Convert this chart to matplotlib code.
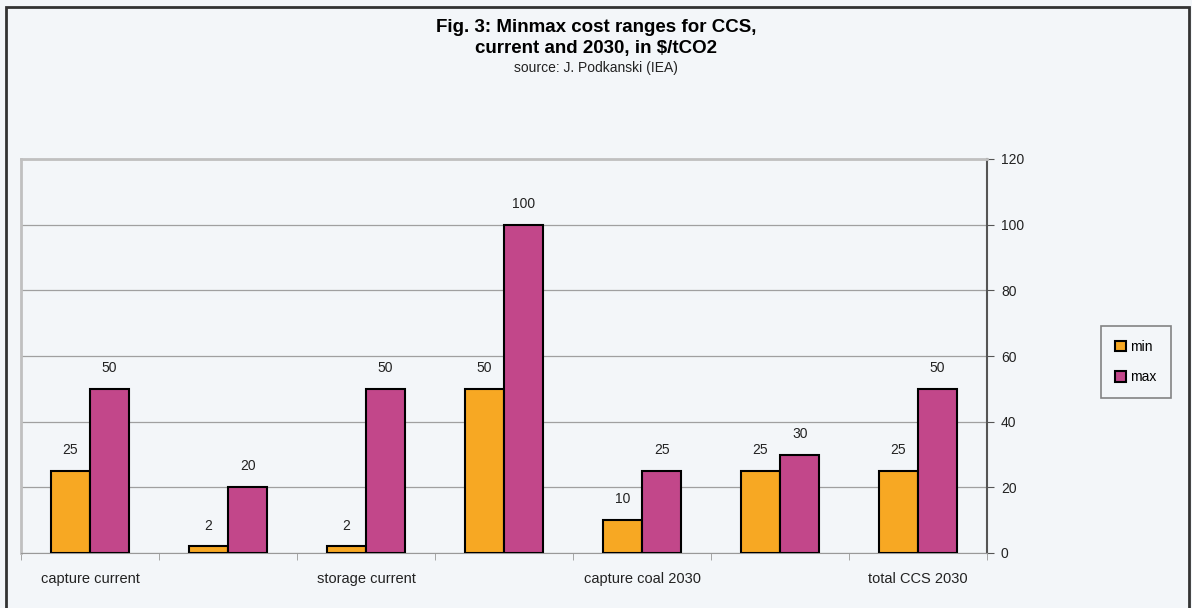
import numpy as np
import matplotlib.pyplot as plt
from matplotlib.patches import Rectangle

plt.rcParams['font.family'] = ['Liberation Sans', 'DejaVu Sans']

groups = ['capture current', '', 'storage current', '', 'capture coal 2030', '', 'total CCS 2030']
min_vals = [25, 2, 2, 50, 10, 25, 25]
max_vals = [50, 20, 50, 100, 25, 30, 50]
yticks = [0, 20, 40, 60, 80, 100, 120]

bg = '#F3F6F9'
c_min = '#F7A823'
c_max = '#C2478A'

fig = plt.figure(figsize=(11.92, 6.08), dpi=100, facecolor=bg)
# outer frame
fig.patches.append(Rectangle((6/1192, -0.01), 1183/1192, 1 - 7/608 + 0.01,
                             transform=fig.transFigure, fill=False,
                             edgecolor='#333333', lw=2))
ax = fig.add_axes([21/1192, 1 - 553/608, (987 - 21)/1192, (553 - 159)/608])
ax.set_facecolor(bg)

x = np.arange(len(groups))
w = 0.285
b1 = ax.bar(x - w/2, min_vals, w, color=c_min, edgecolor='black', lw=1.5, label='min', zorder=3)
b2 = ax.bar(x + w/2, max_vals, w, color=c_max, edgecolor='black', lw=1.5, label='max', zorder=3)

for bars, vals in ((b1, min_vals), (b2, max_vals)):
    for r, v in zip(bars, vals):
        ax.annotate(str(v), (r.get_x() + r.get_width()/2, v), xytext=(0, 10),
                    textcoords='offset points', ha='center', va='bottom',
                    fontsize=10, color='#222222')

ax.set_xlim(-0.5, len(groups) - 0.5)
ax.set_ylim(0, 120)
ax.yaxis.tick_right()
ax.set_yticks(yticks)
ax.tick_params(axis='y', direction='out', length=5, color='#555555', labelsize=10,
               pad=5, labelcolor='#222222')
ax.grid(axis='y', color='#a0a0a0', lw=0.9, zorder=0)

ax.set_xticks(x)
ax.set_xticklabels(groups, fontsize=10.5, color='#222222')
ax.set_xticks(np.arange(-0.5, len(groups)), minor=True)
ax.tick_params(axis='x', which='major', length=0, pad=14)
ax.tick_params(axis='x', which='minor', length=5, color='#999999')

for s in ('left', 'top'):
    ax.spines[s].set_color('#c0c0c0')
    ax.spines[s].set_linewidth(2)
ax.spines['bottom'].set_color('#999999')
ax.spines['right'].set_color('#555555')
ax.spines['right'].set_linewidth(1.5)

leg = fig.legend(handles=[b1, b2], loc='center', bbox_to_anchor=(1136/1192, 1 - 362/608),
                 fontsize=10, frameon=True, fancybox=False, edgecolor='#666666',
                 facecolor=bg, handlelength=0.8, handleheight=0.8, handletextpad=0.3,
                 labelspacing=1.2, borderpad=1.0)
leg.get_frame().set_linewidth(1.2)

fig.text(0.5, 1 - 27/608, 'Fig. 3: Minmax cost ranges for CCS,', ha='center', va='center',
         fontsize=13.5, fontweight='bold')
fig.text(0.5, 1 - 48/608, 'current and 2030, in $/tCO2', ha='center', va='center',
         fontsize=13.5, fontweight='bold')
fig.text(0.5, 1 - 68/608, 'source: J. Podkanski (IEA)', ha='center', va='center',
         fontsize=10, color='#222222')

fig.savefig('out.png', dpi=100, facecolor=bg)
